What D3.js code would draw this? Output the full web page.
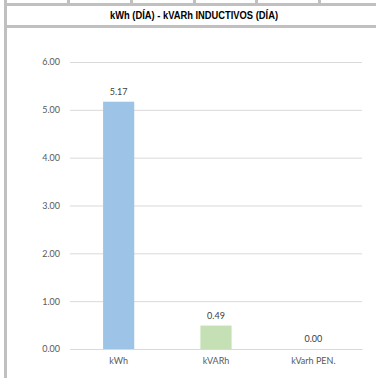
<!DOCTYPE html>
<html>
<head>
<meta charset="utf-8">
<script src="https://cdn.jsdelivr.net/npm/d3@7"></script>
<style>
  body { margin: 0; background: #fff; }
  text { font-family: Lato, "Open Sans", sans-serif; }
</style>
</head>
<body>
<script>
var title = "kWh (DÍA) - kVARh INDUCTIVOS (DÍA)";
var categories = ["kWh", "kVARh", "kVarh PEN."];
var values = [5.17, 0.49, 0.00];
var yTicks = [0, 1, 2, 3, 4, 5, 6];
var sheetCols = [67, 130, 193, 255, 318]; // spreadsheet column edges above the chart

var W = 376, H = 381;
var margin = { top: 62, right: 14, bottom: 32, left: 70 },
    width = W - margin.left - margin.right,
    height = 349 - margin.top;

var svg = d3.select("body").append("svg")
    .attr("width", W)
    .attr("height", H);

// spreadsheet frame
var grey = "#c0c0c0";
svg.selectAll("rect.col")
    .data(sheetCols)
    .enter().append("rect")
    .attr("class", "col")
    .attr("x", function (d) { return d; })
    .attr("y", 0)
    .attr("width", 3)
    .attr("height", 4)
    .attr("fill", grey);
svg.append("rect").attr("x", 4).attr("y", 3).attr("width", W - 4).attr("height", 3).attr("fill", grey);
svg.append("rect").attr("x", 4).attr("y", 25).attr("width", W - 4).attr("height", 3).attr("fill", grey);
svg.append("rect").attr("x", 4).attr("y", 0).attr("width", 3).attr("height", 378).attr("fill", grey);

svg.append("text")
    .attr("x", 194)
    .attr("y", 19)
    .attr("text-anchor", "middle")
    .style("font-family", "'Liberation Sans Narrow', 'Arial Narrow', 'Liberation Sans', sans-serif")
    .style("font-weight", "bold")
    .style("font-size", "10px")
    .attr("textLength", 168)
    .attr("lengthAdjust", "spacingAndGlyphs")
    .attr("fill", "#000")
    .text(title);

var g = svg.append("g")
    .attr("transform", "translate(" + margin.left + "," + margin.top + ")");

var x = d3.scaleBand().domain(categories).range([0, width])
    .paddingInner(0.68).paddingOuter(0.34);
var y = d3.scaleLinear().domain([0, 6]).range([height, 0]);
var color = d3.scaleOrdinal().domain(categories).range(["#9dc3e6", "#c5e0b4", "#f4b183"]);

var yAxis = d3.axisLeft(y).tickValues(yTicks).tickSize(-width).tickPadding(10)
    .tickFormat(d3.format(".2f"));

var ay = g.append("g").call(yAxis);
ay.select(".domain").remove();
ay.selectAll("line").attr("stroke", "#d9d9d9");
ay.selectAll("text").attr("fill", "#595959").style("font-size", "9px");

g.selectAll("rect.bar")
    .data(values)
    .enter().append("rect")
    .attr("class", "bar")
    .attr("x", function (d, i) { return x(categories[i]); })
    .attr("y", function (d) { return y(d); })
    .attr("width", x.bandwidth())
    .attr("height", function (d) { return height - y(d); })
    .attr("fill", function (d, i) { return color(categories[i]); });

g.selectAll("text.lbl")
    .data(values)
    .enter().append("text")
    .attr("class", "lbl")
    .attr("x", function (d, i) { return x(categories[i]) + x.bandwidth() / 2; })
    .attr("y", function (d) { return y(d) - 7; })
    .attr("text-anchor", "middle")
    .attr("fill", "#404040")
    .style("font-size", "9px")
    .text(function (d) { return d3.format(".2f")(d); });

var xAxis = d3.axisBottom(x).tickSize(0).tickPadding(9);
var ax = g.append("g").attr("transform", "translate(0," + height + ")").call(xAxis);
ax.select(".domain").attr("stroke", "#d9d9d9");
ax.selectAll("text").attr("fill", "#595959").style("font-size", "9px");
</script>
</body>
</html>
